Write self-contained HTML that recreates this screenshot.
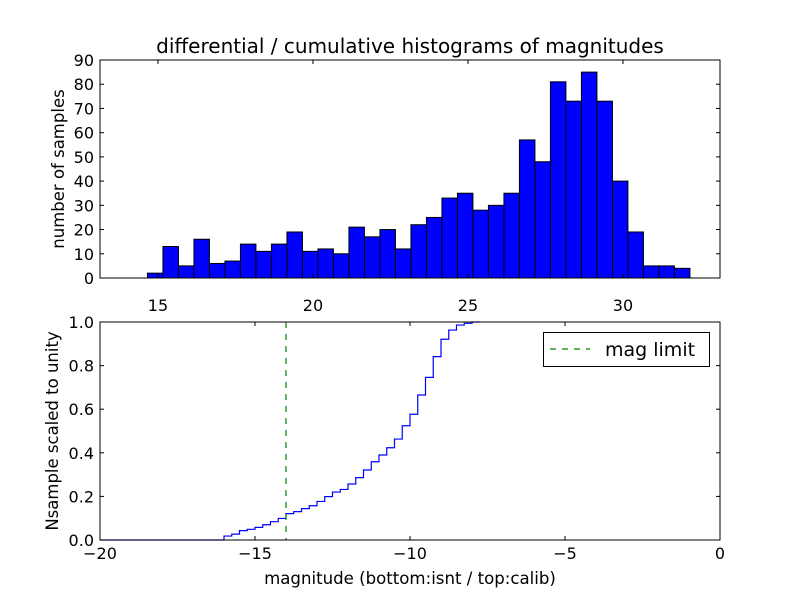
<!DOCTYPE html>
<html><head><meta charset="utf-8"><style>
body{margin:0;background:#fff}
svg{font-family:"DejaVu Sans","Liberation Sans",sans-serif}
</style></head><body>
<svg id="c" width="800" height="600" xmlns="http://www.w3.org/2000/svg"></svg>
<script>
const histCounts=[2,13,5,16,6,7,14,11,14,19,11,12,10,21,17,20,12,22,25,33,35,28,30,35,57,48,81,73,85,73,40,19,5,5,4];
const histStart=14.66, histBinWidth=0.5;
const topXTicks=[15,20,25,30];
const topYTicks=[0,10,20,30,40,50,60,70,80,90];
const cumStart=-16.0, cumBinWidth=0.25;
const cumValues=[0.018,0.027,0.043,0.049,0.058,0.070,0.084,0.099,0.121,0.130,0.144,0.157,0.177,0.199,0.220,0.232,0.257,0.286,0.321,0.359,0.390,0.423,0.463,0.524,0.577,0.665,0.746,0.841,0.921,0.963,0.986,0.994,1.0];
const botXTicks=[-20,-15,-10,-5,0];
const botYTicks=[0,0.2,0.4,0.6,0.8,1.0];
const magLimit=-14.0;

const svg=document.getElementById('c');
const NS='http://www.w3.org/2000/svg';
function mk(tag,attrs,parent){const e=document.createElementNS(NS,tag);for(const k in attrs)e.setAttribute(k,attrs[k]);(parent||svg).appendChild(e);return e;}
function txt(s,x,y,size,anchor,parent){const t=mk('text',{x:x,y:y,'font-size':size,'text-anchor':anchor||'middle',fill:'#000'},parent);t.textContent=s;return t;}
const FS=16;

const T={l:100,r:720,t:60,b:278,x0:13.13,x1:33.13,y0:0,y1:90};
const tx=v=>T.l+(v-T.x0)/(T.x1-T.x0)*(T.r-T.l);
const ty=v=>T.b-(v-T.y0)/(T.y1-T.y0)*(T.b-T.t);
const gTop=mk('g',{});


histCounts.forEach((c,i)=>{
  const x0=tx(histStart+i*histBinWidth),x1=tx(histStart+(i+1)*histBinWidth);
  const r=mk('rect',{x:x0,y:ty(c),width:x1-x0,height:ty(0)-ty(c),fill:'#0000ff',stroke:'#000','stroke-width':1},gTop);
  
  
});
mk('rect',{x:T.l,y:T.t,width:T.r-T.l,height:T.b-T.t,fill:'none',stroke:'#000','stroke-width':1},gTop);
topXTicks.forEach(v=>{const x=tx(v);
  mk('line',{x1:x,x2:x,y1:T.b,y2:T.b-4,stroke:'#000'},gTop);
  mk('line',{x1:x,x2:x,y1:T.t,y2:T.t+4,stroke:'#000'},gTop);
  const t=txt(String(v),x,T.b+33,FS,'middle',gTop);
  
  
});
topYTicks.forEach(v=>{const y=ty(v);
  mk('line',{x1:T.l,x2:T.l+4,y1:y,y2:y,stroke:'#000'},gTop);
  mk('line',{x1:T.r,x2:T.r-4,y1:y,y2:y,stroke:'#000'},gTop);
  const t=txt(String(v),T.l-6,y+6,FS,'end',gTop);
  
  
});
const tt=txt('differential / cumulative histograms of magnitudes',410,53,20,'middle',gTop);


const yl1=txt('number of samples',0,0,16.5,'middle',gTop);
yl1.setAttribute('transform','translate(64,169) rotate(-90)');



const B={l:100,r:720,t:322,b:540,x0:-20,x1:0,y0:0,y1:1};
const bx=v=>B.l+(v-B.x0)/(B.x1-B.x0)*(B.r-B.l);
const by=v=>B.b-(v-B.y0)/(B.y1-B.y0)*(B.b-B.t);
const gB=mk('g',{});


let d='M'+bx(-20)+','+by(0)+' L'+bx(cumStart)+','+by(0);
cumValues.forEach((v,i)=>{
  const x0=bx(cumStart+i*cumBinWidth),x1=bx(cumStart+(i+1)*cumBinWidth);
  d+=' L'+x0+','+by(v)+' L'+x1+','+by(v);
});
const cl=mk('path',{d:d,fill:'none',stroke:'#0000ff','stroke-width':1.2},gB);


const ml=mk('line',{x1:bx(magLimit),x2:bx(magLimit),y1:B.t,y2:B.b,stroke:'#008000','stroke-width':1.2,'stroke-dasharray':'6,6'},gB);


mk('rect',{x:B.l,y:B.t,width:B.r-B.l,height:B.b-B.t,fill:'none',stroke:'#000','stroke-width':1},gB);
botXTicks.forEach(v=>{const x=bx(v);
  mk('line',{x1:x,x2:x,y1:B.b,y2:B.b-4,stroke:'#000'},gB);
  mk('line',{x1:x,x2:x,y1:B.t,y2:B.t+4,stroke:'#000'},gB);
  const t=txt(v<0?'\u2212'+Math.abs(v):String(v),x,B.b+19,FS,'middle',gB);
  
  
});
botYTicks.forEach(v=>{const y=by(v);
  mk('line',{x1:B.l,x2:B.l+4,y1:y,y2:y,stroke:'#000'},gB);
  mk('line',{x1:B.r,x2:B.r-4,y1:y,y2:y,stroke:'#000'},gB);
  const t=txt(v.toFixed(1),B.l-6,y+6,FS,'end',gB);
  
  
});
const xl=txt('magnitude (bottom:isnt / top:calib)',410,584,16.6,'middle',gB);


const yl2=txt('Nsample scaled to unity',0,0,16.5,'middle',gB);
yl2.setAttribute('transform','translate(58,431) rotate(-90)');



const lg=mk('g',{});


mk('rect',{x:543.5,y:332.5,width:166,height:34,fill:'#fff',stroke:'#000'},lg);
mk('line',{x1:550,x2:590,y1:349,y2:349,stroke:'#008000','stroke-width':1.2,'stroke-dasharray':'6,6'},lg);
const lt=txt('mag limit',605,356,19,'start',lg);


</script>
</body></html>
